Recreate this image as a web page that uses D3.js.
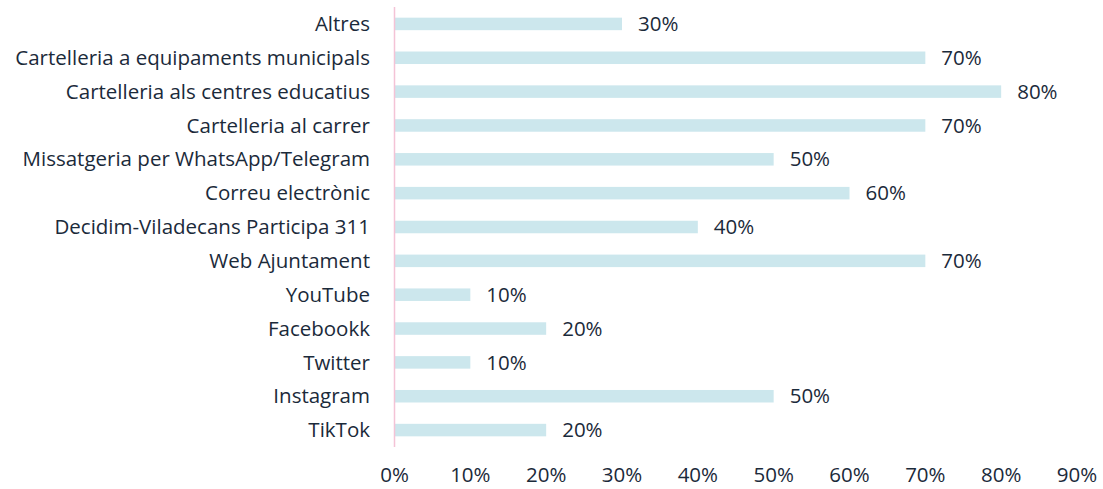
<!DOCTYPE html>
<html>
<head>
<meta charset="utf-8">
<script src="https://cdn.jsdelivr.net/npm/d3@7"></script>
<style>
	body { margin: 0; background: #fff; }
	text { font-family: "Open Sans", sans-serif; fill: #1b2a3a; font-size: 20.5px; }
</style>
</head>
<body>
<svg id="chart" width="1103" height="489"></svg>
<script>
const CATEGORIES = ['Altres', 'Cartelleria a equipaments municipals', 'Cartelleria als centres educatius',
	'Cartelleria al carrer', 'Missatgeria per WhatsApp/Telegram', 'Correu electrònic',
	'Decidim-Viladecans Participa 311', 'Web Ajuntament', 'YouTube', 'Facebookk', 'Twitter',
	'Instagram', 'TikTok'];
const VALUES = [0.3, 0.7, 0.8, 0.7, 0.5, 0.6, 0.4, 0.7, 0.1, 0.2, 0.1, 0.5, 0.2];
const TICKS = [0, 0.1, 0.2, 0.3, 0.4, 0.5, 0.6, 0.7, 0.8, 0.9];

const svg = d3.select('#chart');

const x = d3.scaleLinear().domain([0, 0.9]).range([394.5, 1077]);
const y = d3.scaleBand().domain(CATEGORIES).range([7, 447]).paddingInner(0.63).paddingOuter(0.315);

const fmt = d3.format('.0%');

// bars
svg.append('g')
	.selectAll('rect')
	.data(VALUES)
	.enter().append('rect')
	.attr('x', x(0))
	.attr('y', (d, i) => y(CATEGORIES[i]))
	.attr('width', d => x(d) - x(0))
	.attr('height', y.bandwidth())
	.attr('fill', '#cce7ed');

// vertical axis line
svg.append('line')
	.attr('x1', x(0)).attr('x2', x(0))
	.attr('y1', 7).attr('y2', 447)
	.attr('stroke', '#f4c3d6')
	.attr('stroke-width', 1.5);

// category labels
svg.append('g')
	.selectAll('text')
	.data(CATEGORIES)
	.enter().append('text')
	.text(d => d)
	.attr('x', 370)
	.attr('y', d => y(d) + y.bandwidth() / 2)
	.attr('dy', '0.35em')
	.attr('text-anchor', 'end');

// value labels
svg.append('g')
	.selectAll('text')
	.data(VALUES)
	.enter().append('text')
	.text(d => fmt(d))
	.attr('x', d => x(d) + 16)
	.attr('y', (d, i) => y(CATEGORIES[i]) + y.bandwidth() / 2)
	.attr('dy', '0.35em');

// x tick labels
svg.append('g')
	.selectAll('text')
	.data(TICKS)
	.enter().append('text')
	.text(d => fmt(d))
	.attr('x', d => x(d))
	.attr('y', 482)
	.attr('text-anchor', 'middle');
</script>
</body>
</html>
